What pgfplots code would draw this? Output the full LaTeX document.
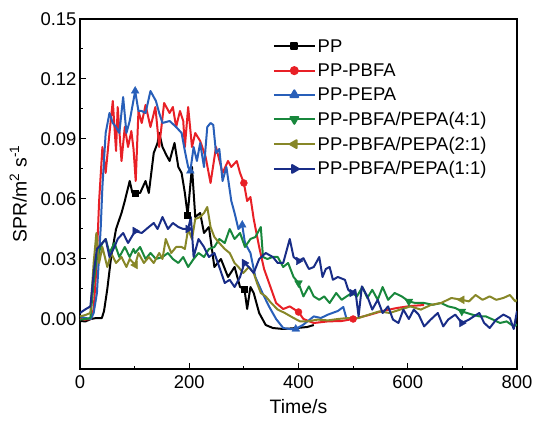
\documentclass[border=0pt]{standalone}
\usepackage{pgfplots}
\pgfplotsset{compat=1.18}
\usepackage{fontspec}
\setmainfont{Liberation Sans}
\definecolor{cPP}{RGB}{0,0,0}
\definecolor{cPBFA}{RGB}{232,32,38}
\definecolor{cPEPA}{RGB}{40,95,185}
\definecolor{cG}{RGB}{24,135,60}
\definecolor{cO}{RGB}{135,135,40}
\definecolor{cN}{RGB}{25,45,135}
\tikzset{dl/.style={line width=2bp, line join=round}}
\begin{document}
\begin{tikzpicture}
\begin{axis}[
  scale only axis, width=437bp, height=350bp,
  xmin=0, xmax=800, ymin=-0.025, ymax=0.15,
  xtick={0,200,400,600,800}, minor x tick num=1,
  ytick={0,0.03,0.06,0.09,0.12,0.15}, minor y tick num=1,
  tick align=inside, tickpos=left,
  major tick length=6bp, minor tick length=3.5bp,
  every tick/.style={black, line width=1bp},
  axis line style={line width=1.5bp},
  /pgf/number format/assume math mode=true,
  yticklabel style={/pgf/number format/fixed, /pgf/number format/fixed zerofill, /pgf/number format/precision=2},
  xticklabel style={yshift=-3bp},
  scaled y ticks=false,
  tick label style={font=\fontsize{18.5}{21}\selectfont},
  label style={font=\fontsize{19.5}{22}\selectfont},
  xlabel={Time/s}, ylabel={SPR/m\textsuperscript{2} s\textsuperscript{-1}},
  xlabel style={yshift=-4bp}, ylabel style={yshift=7bp},
  legend style={at={(0.441,0.948)}, anchor=north west, draw=none, fill=none,
    font=\fontsize{18.5}{21}\selectfont, row sep=6bp, inner sep=0pt},
  legend cell align=left,
  legend image code/.code={\draw[dl, mark repeat=2,mark phase=2] plot coordinates {(0cm,0cm) (0.72cm,0cm) (1.44cm,0cm)};},
]
\coordinate (sw) at (rel axis cs:0,0);
\coordinate (ne) at (rel axis cs:1,1);
% PP
\addplot[cPP, dl, forget plot] coordinates {
(0,-0.001)(10,-0.0012)(20,0.000)(30,0.0005)(40,0.0005)(44,0.004)(50,0.015)(57,0.031)(66,0.045)(76,0.053)(82,0.059)(91,0.069)(96,0.063)(101,0.063)(110,0.063)(120,0.069)(126,0.063)(135,0.083)(142,0.088)(145,0.093)(151,0.086)(158,0.082)(164,0.079)(173,0.088)(180,0.076)(186,0.073)(192,0.063)(197,0.052)(205,0.076)(211,0.051)(220,0.053)(227,0.043)(236,0.046)(246,0.026)(258,0.030)(271,0.021)(283,0.026)(293,0.016)(301,0.015)(306,0.005)(312,0.016)(318,0.013)(328,0.003)(340,-0.003)(353,-0.0045)(372,-0.005)(397,-0.0045)(416,-0.004)(428,-0.003)};
% PP-PBFA
\addplot[cPBFA, dl, forget plot] coordinates {
(0,0.000)(10,-0.0003)(20,0.000)(25,0.005)(30,0.025)(35,0.059)(41,0.086)(47,0.073)(54,0.093)(60,0.109)(66,0.084)(69,0.106)(76,0.079)(82,0.096)(88,0.086)(94,0.094)(98,0.085)(102,0.069)(107,0.104)(113,0.098)(120,0.107)(129,0.096)(138,0.106)(145,0.086)(154,0.108)(164,0.103)(170,0.106)(176,0.096)(183,0.104)(189,0.099)(192,0.086)(198,0.106)(205,0.086)(211,0.093)(220,0.089)(230,0.081)(239,0.068)(249,0.086)(261,0.073)(271,0.079)(277,0.076)(287,0.079)(293,0.073)(300,0.068)(306,0.059)(312,0.061)(318,0.050)(328,0.036)(337,0.025)(350,0.015)(359,0.008)(372,0.005)(384,0.0063)(400,0.0035)(409,0.000)(428,-0.002)(454,-0.0012)(479,-0.001)(500,0.000)(529,0.002)(554,0.004)(580,0.0055)(605,0.0065)(630,0.007)};
% PP-PEPA
\addplot[cPEPA, dl, forget plot] coordinates {
(0,0.0013)(10,0.0005)(20,0.000)(25,0.003)(31,0.013)(38,0.046)(41,0.066)(47,0.093)(54,0.103)(60,0.098)(66,0.096)(72,0.093)(79,0.111)(85,0.093)(91,0.099)(101,0.114)(107,0.104)(113,0.104)(120,0.103)(129,0.114)(139,0.109)(145,0.103)(151,0.098)(164,0.099)(176,0.096)(186,0.093)(192,0.084)(198,0.076)(202,0.074)(208,0.086)(214,0.079)(220,0.088)(227,0.076)(233,0.096)(239,0.098)(244,0.097)(249,0.083)(255,0.085)(261,0.069)(268,0.076)(277,0.059)(283,0.053)(290,0.045)(297,0.047)(302,0.038)(312,0.033)(321,0.021)(334,0.013)(346,0.0063)(359,0.000)(372,-0.0045)(384,-0.005)(395,-0.005)(409,-0.0028)(428,0.0013)(441,0.0005)(454,0.0022)(472,0.004)(482,0.006)(488,0.000)};
% 4:1
\addplot[cG, dl, forget plot] coordinates {
(0,-0.0003)(10,0.000)(19,0.0005)(25,0.018)(31,0.031)(41,0.038)(47,0.040)(54,0.033)(63,0.038)(72,0.031)(82,0.036)(91,0.031)(98,0.035)(101,0.033)(110,0.036)(120,0.030)(129,0.033)(139,0.030)(151,0.031)(161,0.033)(170,0.030)(180,0.028)(189,0.031)(198,0.026)(208,0.030)(217,0.033)(227,0.031)(236,0.035)(246,0.036)(255,0.040)(265,0.038)(274,0.045)(283,0.040)(293,0.043)(302,0.036)(312,0.040)(321,0.041)(331,0.046)(335,0.031)(343,0.030)(353,0.031)(362,0.031)(372,0.026)(381,0.028)(391,0.021)(400,0.018)(409,0.0113)(419,0.0163)(428,0.0113)(438,0.0096)(447,0.0113)(457,0.008)(469,0.013)(479,0.0096)(488,0.0113)(498,0.013)(507,0.0113)(517,0.016)(526,0.0105)(535,0.0146)(545,0.0096)(554,0.016)(564,0.0096)(576,0.013)(589,0.0113)(602,0.0088)(614,0.008)(630,0.008)(646,0.0071)(661,0.008)(674,0.0063)(687,0.0055)(699,0.0038)(718,0.0022)(731,0.0013)(743,0.0013)(756,-0.0003)(769,-0.002)(781,-0.0012)(794,-0.0037)(800,-0.0028)};
% 2:1
\addplot[cO, dl, forget plot] coordinates {
(0,0.0013)(10,0.002)(19,0.003)(25,0.028)(30,0.043)(35,0.028)(41,0.036)(50,0.026)(57,0.033)(66,0.028)(76,0.031)(85,0.026)(91,0.030)(101,0.027)(107,0.033)(117,0.028)(126,0.031)(135,0.028)(145,0.033)(151,0.030)(157,0.040)(167,0.033)(176,0.036)(186,0.036)(192,0.035)(198,0.045)(205,0.040)(211,0.050)(220,0.051)(227,0.053)(233,0.056)(239,0.046)(246,0.041)(255,0.038)(265,0.035)(274,0.033)(283,0.028)(290,0.026)(299,0.023)(309,0.026)(318,0.023)(324,0.018)(331,0.013)(340,0.0113)(350,0.008)(362,0.0047)(375,0.003)(391,0.0005)(403,-0.0012)(416,-0.0012)(435,-0.0003)(454,-0.0007)(472,0.0000)(491,0.0005)(510,0.0005)(529,0.0022)(548,0.0038)(567,0.003)(586,0.0047)(605,0.0063)(624,0.0047)(643,0.0071)(661,0.008)(680,0.0105)(699,0.0096)(712,0.0088)(724,0.012)(737,0.0096)(750,0.0113)(762,0.0096)(775,0.0105)(787,0.012)(797,0.0088)(800,0.0096)};
% 1:1
\addplot[cN, dl, forget plot] coordinates {
(0,0.003)(9,0.0047)(19,0.0063)(25,0.023)(31,0.035)(41,0.038)(47,0.040)(54,0.031)(63,0.036)(69,0.040)(79,0.043)(88,0.038)(101,0.044)(113,0.043)(126,0.046)(135,0.048)(142,0.045)(151,0.051)(161,0.045)(170,0.048)(180,0.046)(189,0.045)(198,0.045)(203,0.051)(208,0.031)(217,0.040)(227,0.036)(236,0.031)(246,0.033)(255,0.026)(265,0.018)(274,0.0196)(283,0.016)(293,0.021)(301,0.028)(309,0.026)(318,0.023)(328,0.030)(340,0.033)(353,0.031)(362,0.028)(372,0.028)(384,0.040)(391,0.031)(400,0.029)(409,0.0304)(419,0.025)(428,0.026)(438,0.031)(444,0.021)(450,0.025)(457,0.026)(463,0.0196)(472,0.021)(485,0.0196)(491,0.0146)(498,0.013)(504,0.0146)(510,0.0013)(516,0.0163)(526,0.0113)(535,0.0047)(545,0.0096)(554,0.003)(564,0.0063)(573,-0.0003)(583,-0.002)(592,0.0047)(602,0.000)(611,0.0047)(620,0.0022)(630,-0.0037)(642,-0.0003)(655,0.003)(665,-0.0037)(674,-0.0003)(687,0.0022)(699,-0.002)(712,-0.0003)(721,0.0013)(731,0.003)(740,-0.002)(750,-0.0045)(762,-0.0003)(775,0.0022)(787,0.0005)(794,-0.005)(800,0.004)};
% markers
\addplot[cPP, only marks, mark=square*, mark size=3bp, forget plot] coordinates {(101,0.063)(197,0.052)(301,0.015)};
\addplot[cPBFA, only marks, mark=*, mark size=3.5bp, forget plot] coordinates {(300,0.068)(400,0.0035)(500,0.000)};
\addplot[cPEPA, only marks, mark=triangle*, mark size=4.5bp, forget plot] coordinates {(101,0.114)(202,0.074)(297,0.047)(395,-0.005)};
\addplot[cG, only marks, mark=triangle*, mark options={rotate=180}, mark size=4.5bp, forget plot] coordinates {(400,0.018)(602,0.0088)(699,0.0038)};
\addplot[cO, only marks, mark=triangle*, mark options={rotate=90}, mark size=4.5bp, forget plot] coordinates {(101,0.027)(699,0.0096)};
\addplot[cN, only marks, mark=triangle*, mark options={rotate=-90}, mark size=4.5bp, forget plot] coordinates {(101,0.044)(198,0.045)(301,0.028)(400,0.029)(498,0.013)(699,-0.002)};
% legend
\addlegendimage{cPP, mark=square*, mark size=3bp}
\addlegendentry{PP}
\addlegendimage{cPBFA, mark=*, mark size=3.5bp}
\addlegendentry{PP-PBFA}
\addlegendimage{cPEPA, mark=triangle*, mark size=4.5bp}
\addlegendentry{PP-PEPA}
\addlegendimage{cG, mark=triangle*, mark options={rotate=180}, mark size=4.5bp}
\addlegendentry{PP-PBFA/PEPA(4:1)}
\addlegendimage{cO, mark=triangle*, mark options={rotate=90}, mark size=4.5bp}
\addlegendentry{PP-PBFA/PEPA(2:1)}
\addlegendimage{cN, mark=triangle*, mark options={rotate=-90}, mark size=4.5bp}
\addlegendentry{PP-PBFA/PEPA(1:1)}
\end{axis}
\pgfresetboundingbox
\path ([shift={(-80bp,-54bp)}]sw) rectangle ([shift={(20bp,19bp)}]ne);
\end{tikzpicture}
\end{document}
